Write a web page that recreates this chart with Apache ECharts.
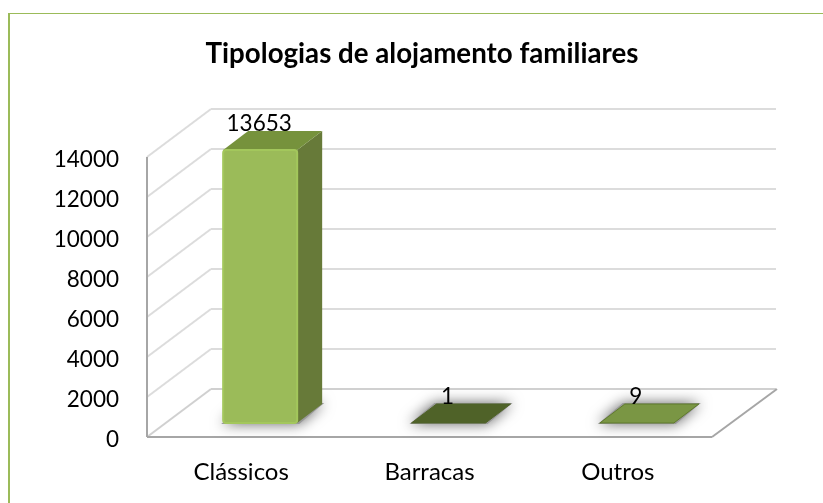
<!DOCTYPE html>
<html>
<head>
<meta charset="utf-8">
<script src="https://cdn.jsdelivr.net/npm/echarts@6/dist/echarts.min.js"></script>
<style>
html, body { margin: 0; background: #fff; }
#main { width: 823px; height: 503px; }
</style>
</head>
<body>
<div id="main"></div>
<script>
var categories = ['Clássicos', 'Barracas', 'Outros'];
var values = [13653, 1, 9];
var tickValues = [0, 2000, 4000, 6000, 8000, 10000, 12000, 14000];

var barColors = [
  { front: '#9bbb59', side: '#677a39', top: '#76923c', edge: '#a3c75c' },
  { front: '#4f6228', side: '#4f6228', top: '#4f6228', edge: '#4f6228' },
  { front: '#76923c', side: '#76923c', top: '#7a9644', edge: '#5f7a2c' }
];

// depth of the fake 3d box, in pixels
var wallDx = 64, wallDy = -48;
var barNearDx = 19, barNearDy = -14;
var barFarDx = 44, barFarDy = -33;
var barW = 74;

var chart = echarts.init(document.getElementById('main'));

function poly(points, fill, extra) {
  return Object.assign({
    type: 'polygon',
    shape: { points: points },
    style: { fill: fill }
  }, extra || {});
}

function line(x1, y1, x2, y2, color, w) {
  return {
    type: 'line',
    shape: { x1: x1, y1: y1, x2: x2, y2: y2 },
    style: { stroke: color, lineWidth: w || 2, fill: null }
  };
}

function renderWall(params, api) {
  var cs = params.coordSys;
  var v = api.value(0);
  var y = api.coord([0, v])[1];
  var right = cs.x + cs.width;
  var color = v === 0 ? '#d0d0d0' : '#dcdcdc';
  return {
    type: 'group',
    children: [
      line(cs.x, y, cs.x + wallDx, y + wallDy, color),
      line(cs.x + wallDx, y + wallDy, right + wallDx, y + wallDy, color)
    ]
  };
}

function renderBar(params, api) {
  var i = api.value(0);
  var c = barColors[i];
  var base = api.coord([i, 0]);
  var head = api.coord([i, api.value(1)]);
  var l = base[0] + barNearDx - barW / 2;
  var r = l + barW;
  var yb = base[1] + barNearDy;
  var yt = head[1] + barNearDy;
  var ddx = barFarDx - barNearDx;
  var ddy = barFarDy - barNearDy;
  var kids = [];
  // soft shadow on the floor
  kids.push(poly([[l - 2, yb + 1], [r + 2, yb + 1], [r + ddx + 2, yb + ddy - 1], [l + ddx - 2, yb + ddy - 1]], '#999', {
    style: { fill: '#999', shadowBlur: 14, shadowColor: 'rgba(0,0,0,0.6)' }
  }));
  if (yb - yt > 2) {
    kids.push(poly([[r, yt], [r + ddx, yt + ddy], [r + ddx, yb + ddy], [r, yb]], c.side));
    kids.push(poly([[l, yt], [r, yt], [r + ddx, yt + ddy], [l + ddx, yt + ddy]], c.top));
    kids.push({
      type: 'rect',
      shape: { x: l, y: yt, width: barW, height: yb - yt, r: 3 },
      style: { fill: c.front, stroke: c.edge, lineWidth: 2 }
    });
  } else {
    kids.push(poly([[l, yb], [r, yb], [r + ddx, yb + ddy], [l + ddx, yb + ddy]], c.top, {
      style: { fill: c.top, stroke: c.edge, lineWidth: 1 }
    }));
  }
  kids.push({
    type: 'text',
    z2: 10,
    style: {
      text: String(api.value(1)),
      x: base[0] + barNearDx - 1,
      y: yt - 26,
      align: 'center',
      verticalAlign: 'middle',
      font: '22.5px Lato',
      fill: '#000'
    }
  });
  return { type: 'group', children: kids };
}

function renderFloor(params, api) {
  var cs = params.coordSys;
  var x0 = cs.x, x1 = cs.x + cs.width, y0 = cs.y + cs.height;
  return {
    type: 'group',
    children: [
      line(x0, cs.y, x0, y0, '#a6a6a6'),
      line(x0, y0, x1, y0, '#a6a6a6'),
      line(x1, y0, x1 + wallDx + 1, y0 + wallDy, '#a6a6a6')
    ]
  };
}

var option = {
  animation: false,
  backgroundColor: '#fff',
  title: {
    text: 'Tipologias de alojamento familiares',
    left: 417,
    top: 35,
    textAlign: 'center',
    textStyle: { fontFamily: 'Lato', fontSize: 27.7, fontWeight: 'bold', color: '#000' }
  },
  graphic: [
    { type: 'rect', shape: { x: 8, y: 13, width: 2, height: 490 }, style: { fill: '#9bbb59' } },
    { type: 'rect', shape: { x: 8, y: 13, width: 815, height: 1 }, style: { fill: '#9bbb59' } }
  ],
  grid: { left: 147, top: 157, width: 565, height: 280 },
  xAxis: {
    type: 'category',
    data: categories,
    axisLine: { show: false },
    axisTick: { show: false },
    axisLabel: { fontFamily: 'Lato', fontSize: 24, color: '#000', margin: 23 }
  },
  yAxis: {
    type: 'value',
    min: 0,
    max: 14000,
    interval: 2000,
    axisLine: { show: false },
    axisTick: { show: false },
    splitLine: { show: false },
    axisLabel: {
      color: '#000',
      margin: 28,
      formatter: function (v) { return '{n|' + v + '}'; },
      rich: { n: { fontFamily: 'Lato', fontSize: 22.5, color: '#000', padding: [6, 0, 0, 0] } }
    }
  },
  series: [
    {
      type: 'custom',
      name: 'walls',
      coordinateSystem: 'cartesian2d',
      renderItem: renderWall,
      encode: { y: 0 },
      data: tickValues.map(function (t) { return [t]; }),
      clip: false,
      silent: true,
      z: 1
    },
    {
      type: 'custom',
      name: 'floor',
      coordinateSystem: 'cartesian2d',
      renderItem: renderFloor,
      data: [[0]],
      clip: false,
      silent: true,
      z: 2
    },
    {
      type: 'custom',
      name: 'bars',
      coordinateSystem: 'cartesian2d',
      renderItem: renderBar,
      encode: { x: 0, y: 1 },
      data: values.map(function (v, i) { return [i, v]; }),
      clip: false,
      z: 3
    }
  ]
};

chart.setOption(option);
</script>
</body>
</html>
